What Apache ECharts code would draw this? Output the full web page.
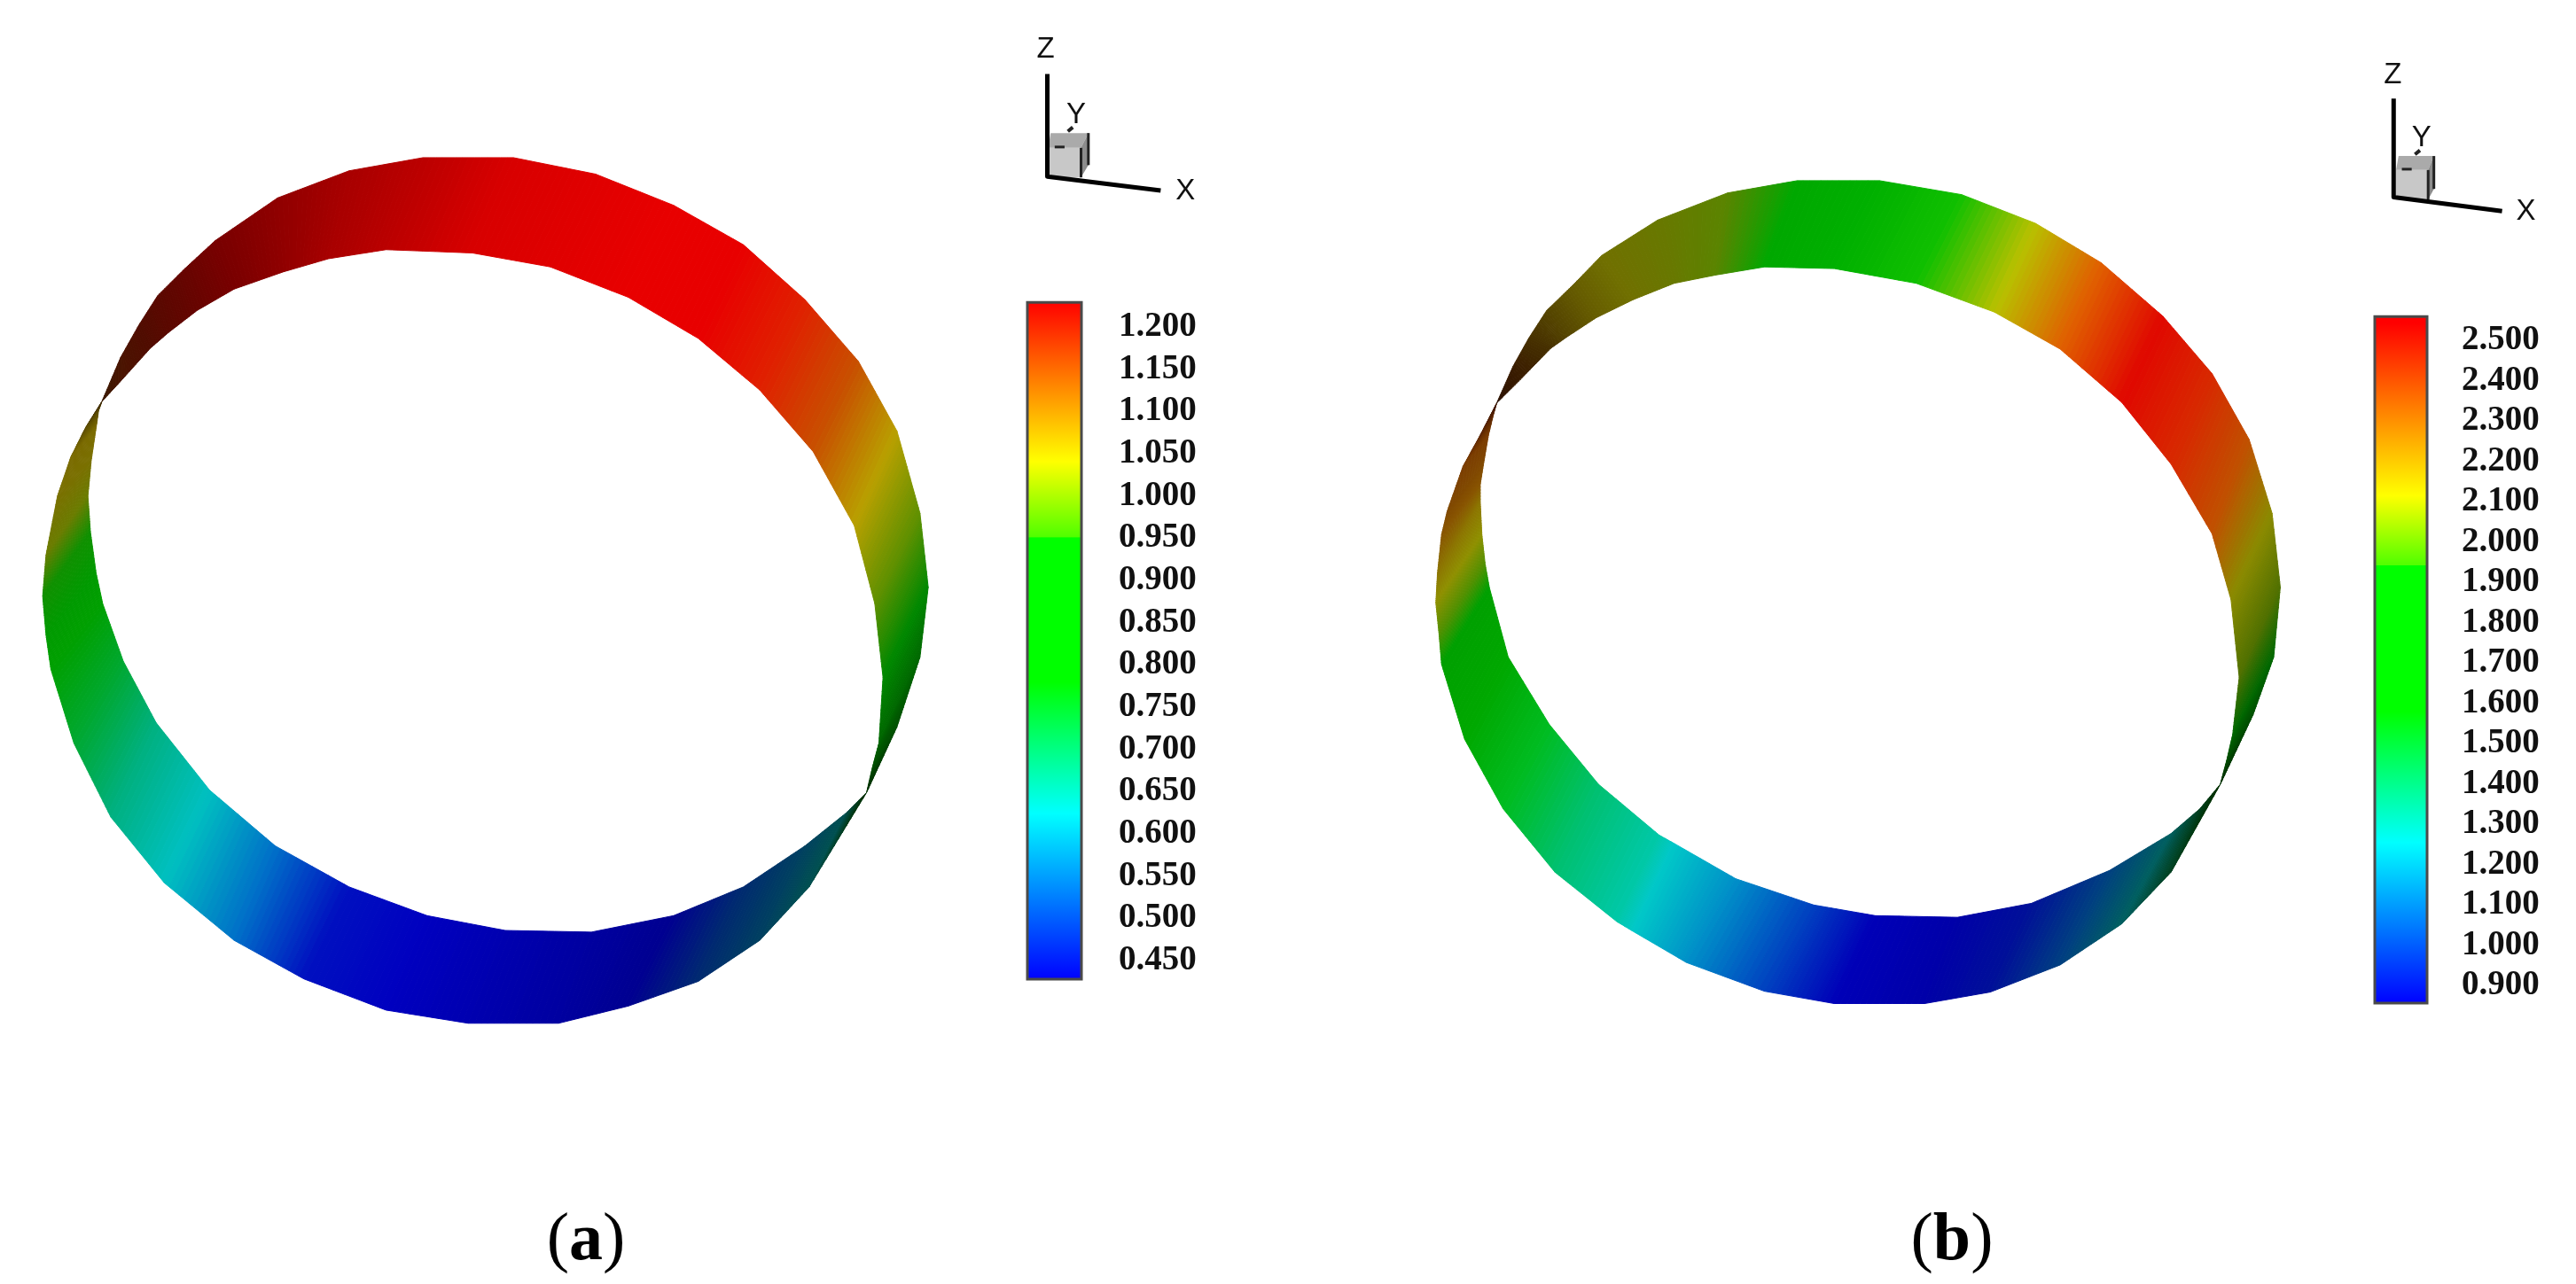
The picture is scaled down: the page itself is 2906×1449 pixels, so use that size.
<!DOCTYPE html>
<html><head><meta charset="utf-8">
<style>html,body{margin:0;padding:0;background:#fff}#c{width:2906px;height:1449px}</style>
<script src="https://cdn.jsdelivr.net/npm/echarts@6/dist/echarts.min.js"></script>
</head><body><div id="c"></div>
<script>
// Ring (a): stations along each half of the twisted band (outer edge, inner edge, colour)
var aUpperOuter=[[124,489],[147,435],[169,396],[192,360],[223,329],[262,293],[338,241],[425,208],[515,192],[625,192],[725,212],[820,250],[905,298],[980,365],[1045,440],[1092,525],[1120,625],[1130,715],[1120,800],[1092,885],[1055,965]];
var aUpperInner=[[124,489],[147,464],[183,424],[205,405],[240,378],[285,352],[345,331],[400,315],[470,304],[575,308],[670,325],[765,362],[850,412],[925,475],[990,550],[1040,640],[1065,735],[1075,825],[1070,905],[1062,935],[1055,965]];
var aUpperColor=['#3a1a00','#4a1400','#500c00','#5a0800','#660400','#780000','#900000','#a80000','#bb0000','#d80000','#e00000','#e80000','#e80000','#e02000','#c85000','#b8a000','#609000','#008800','#006800','#005000','#003000'];
var aLowerOuter=[[124,489],[104,521],[86,557],[70,604],[56,676],[52,726],[56,773],[62,815],[90,905],[135,995],[200,1075],[285,1145],[370,1192],[470,1230],[570,1246],[680,1246],[765,1225],[850,1195],[925,1145],[985,1080],[1055,965]];
var aLowerInner=[[124,489],[120,500],[117,521],[111,561],[107,604],[110,647],[117,698],[125,735],[150,805],[190,880],[255,962],[335,1030],[425,1080],[520,1115],[615,1133],[720,1135],[820,1115],[905,1080],[980,1030],[1030,990],[1055,965]];
var aLowerColor=['#3a2400','#5a4a00','#7a6a00','#7a7000','#6a7c00','#109000','#009a00','#00a000','#00a830','#00b080','#00c0c0','#0070c8','#0010c0','#0000c0','#0000b0','#0000a0','#000090','#002a70','#004060','#005050','#003000'];
// Ring (b)
var bUpperOuter=[[254,491],[274,446],[293,412],[315,378],[347,347],[382,311],[450,268],[535,235],[620,220],[720,220],[820,237],[910,272],[990,320],[1065,385],[1125,455],[1170,535],[1198,625],[1208,715],[1200,800],[1175,870],[1135,955]];
var bUpperInner=[[254,491],[285,460],[320,424],[340,410],[375,387],[420,365],[470,345],[520,335],[580,325],[665,327],[765,345],[860,380],[940,425],[1015,490],[1075,565],[1125,650],[1148,730],[1158,825],[1150,895],[1143,925],[1135,955]];
var bUpperColor=['#2a1000','#3a1c00','#463000','#544400','#665c00','#707000','#687800','#5a8400','#00a800','#00b000','#10c000','#b8c000','#e06000','#e00800','#d82800','#c05000','#8a8a00','#507000','#006800','#005000','#003000'];
var bLowerOuter=[[254,491],[234,530],[213,568],[194,622],[187,651],[182,698],[180,734],[184,773],[187,809],[215,900],[262,985],[325,1062],[400,1122],[420,1134],[485,1172],[580,1207],[665,1222],[775,1222],[855,1208],[940,1175],[1015,1125],[1075,1062],[1135,955]];
var bLowerInner=[[254,491],[250,505],[244,530],[238,565],[234,590],[234,611],[236,651],[240,687],[245,715],[268,800],[318,882],[378,955],[452,1017],[470,1027],[545,1070],[640,1102],[715,1115],[815,1117],[905,1100],[1000,1060],[1075,1015],[1110,985],[1135,955]];
var bLowerColor=['#3a1400','#5a2400','#7a3c00','#804800','#885400','#8c7400','#8f9000','#509000','#00a000','#00a800','#00bc20','#00c070','#00c8a8','#00c8c8','#0090c8','#0040c0','#0000b8','#0000a8','#001098','#004080','#005f60','#004020','#003000'];
// Colour bars
var aTicksMin=0.40,aTicksMax=1.25,aTickStep=0.05,aBarRange=[0.428,1.229];
var aStopValues=[0.428,0.625,0.78,0.95,0.951,1.04,1.229];
var bTicksMin=0.8,bTicksMax=2.6,bTickStep=0.1,bBarRange=[0.856,2.559];
var bStopValues=[0.856,1.256,1.58,1.94,1.941,2.113,2.54];
var stopColors=['#0000ff','#00ffff','#00ff00','#00ff00','#50ff00','#ffff00','#ff0000'];
// Orientation triad
var aTriadLine=[[1275,90],[1275,215],[1413,232]];
var aCube={front:[[1276,180],[1316,180],[1316,216],[1276,216]],top:[[1279,162],[1325,162],[1316,180],[1276,180]],side:[[1316,180],[1325,162],[1325,201],[1316,216]],dash:[[1284,179],[1296,179]],stub:[[1300,160],[1306,155]]};
var aLabels=[['Z',1273,60],['Y',1310,140],['X',1443,233]];
var bTriadLine=[[1346,120],[1346,240],[1478,257]];
var bCube={front:[[1349,207],[1388,207],[1388,243],[1349,243]],top:[[1352,190],[1395,190],[1388,207],[1349,207]],side:[[1388,207],[1395,190],[1395,230],[1388,243]],dash:[[1356,206],[1368,206]],stub:[[1372,188],[1378,183]]};
var bLabels=[['Z',1345,92],['Y',1380,168],['X',1507,258]];
var captions=['a','b'];

function hex(c){return [parseInt(c.substr(1,2),16),parseInt(c.substr(3,2),16),parseInt(c.substr(5,2),16)];}
function mix(p,q,t){var a=hex(p),b=hex(q);return 'rgb('+[0,1,2].map(function(k){return Math.round(a[k]+(b[k]-a[k])*t);}).join(',')+')';}
function bandRows(outer,inner){var r=[];for(var i=0;i<outer.length-1;i++){r.push([outer[i][0],outer[i][1],inner[i][0],inner[i][1],outer[i+1][0],outer[i+1][1],inner[i+1][0],inner[i+1][1]]);}return r;}
function bandSeries(grid,outer,inner,colors){
  return {type:'custom',xAxisIndex:grid,yAxisIndex:grid,silent:true,clip:false,animation:false,
    data:bandRows(outer,inner),encode:{x:[0,2,4,6],y:[1,3,5,7]},
    renderItem:function(params,api){
      var i=params.dataIndex,c0=colors[i],c1=colors[i+1];
      var o0=api.coord([api.value(0),api.value(1)]),n0=api.coord([api.value(2),api.value(3)]);
      var o1=api.coord([api.value(4),api.value(5)]),n1=api.coord([api.value(6),api.value(7)]);
      var kids=[],N=14;
      function L(a,b,t){return [a[0]+(b[0]-a[0])*t,a[1]+(b[1]-a[1])*t];}
      for(var k=0;k<N;k++){
        var t0=k/N,t1=(k+1)/N,col=mix(c0,c1,(k+0.5)/N);
        kids.push({type:'polygon',shape:{points:[L(o0,o1,t0),L(o0,o1,t1),L(n0,n1,t1),L(n0,n1,t0)]},style:{fill:col,stroke:col,lineWidth:1}});
      }
      return {type:'group',children:kids};
    }};
}
function triadSeries(grid,line,cube,labels){
  return {type:'custom',xAxisIndex:grid,yAxisIndex:grid,silent:true,clip:false,animation:false,data:[0],
    renderItem:function(p,api){
      function C(a){return a.map(function(q){return api.coord(q);});}
      var k=[];
      k.push({type:'polygon',shape:{points:C(cube.front)},style:{fill:'#c8c8c8'}});
      k.push({type:'polygon',shape:{points:C(cube.top)},style:{fill:'#aaaaaa'}});
      k.push({type:'polygon',shape:{points:C(cube.side)},style:{fill:'#8c8c8c'}});
      k.push({type:'polyline',shape:{points:C([cube.front[1],cube.front[2]])},style:{fill:'none',stroke:'#222',lineWidth:3}});
      k.push({type:'polyline',shape:{points:C([cube.top[1],cube.side[2]])},style:{fill:'none',stroke:'#222',lineWidth:3}});
      k.push({type:'polyline',shape:{points:C(cube.dash)},style:{fill:'none',stroke:'#222',lineWidth:3}});
      k.push({type:'polyline',shape:{points:C(cube.stub)},style:{fill:'none',stroke:'#222',lineWidth:4}});
      k.push({type:'polyline',shape:{points:C(line)},style:{fill:'none',stroke:'#000',lineWidth:5,lineJoin:'round'}});
      labels.forEach(function(l){var q=api.coord([l[1],l[2]]);
        k.push({type:'text',x:q[0],y:q[1],style:{text:l[0],fill:'#111',font:'33px "Liberation Sans"',align:'center',verticalAlign:'middle'}});});
      return {type:'group',children:k};
    }};
}
function barSeries(grid,range,stops){
  return {type:'custom',xAxisIndex:grid,yAxisIndex:grid,silent:true,clip:false,animation:false,data:[[0,1,range[0],range[1]]],encode:{y:[2,3]},
    renderItem:function(p,api){
      var a=api.coord([api.value(0),api.value(3)]),b=api.coord([api.value(1),api.value(2)]);
      var cs=stops.map(function(v,i){return {offset:(v-range[0])/(range[1]-range[0]),color:stopColors[i]};});
      return {type:'rect',shape:{x:a[0],y:a[1],width:b[0]-a[0],height:b[1]-a[1]},
        style:{fill:{type:'linear',x:0,y:1,x2:0,y2:0,colorStops:cs},stroke:'#4a4a4a',lineWidth:3}};
    }};
}
function panelAxes(i){return {x:{gridIndex:i,type:'value',min:0,max:1568,show:false},y:{gridIndex:i,type:'value',min:0,max:1563.5,inverse:true,show:false}};}
function barY(i,min,max,step,margin){return {gridIndex:i,type:'value',position:'right',min:min,max:max,interval:step,
  axisLine:{show:false},axisTick:{show:false},splitLine:{show:false},
  axisLabel:{show:true,margin:margin,color:'#111',fontFamily:'"Liberation Serif"',fontWeight:'bold',fontSize:39,
    formatter:function(v){return (v<min+step/2||v>max-step/2)?'':v.toFixed(3);}}};}
var pA=panelAxes(0),pB=panelAxes(1);
var capStyle={fontFamily:'"Liberation Serif"',fontSize:76,fontWeight:'normal',color:'#000',rich:{p:{fontFamily:'"Liberation Serif"',fontWeight:'normal',fontSize:76,color:'#000'},l:{fontFamily:'"Liberation Serif"',fontWeight:'bold',fontSize:76,color:'#000'}}};
var chart=echarts.init(document.getElementById('c'),null,{renderer:'canvas',width:2906,height:1449});
chart.setOption({
  backgroundColor:'#ffffff',animation:false,
  title:[
    {text:'{p|(}{l|'+captions[0]+'}{p|)}',left:661,top:1363,textAlign:'center',textStyle:capStyle,padding:0},
    {text:'{p|(}{l|'+captions[1]+'}{p|)}',left:2202,top:1363,textAlign:'center',textStyle:capStyle,padding:0}
  ],
  grid:[
    {left:0,top:0,width:1453,height:1449},
    {left:1453,top:0,width:1453,height:1449},
    {left:1159,top:321.3,width:61,height:810.4},
    {left:2679,top:338.5,width:59,height:819}
  ],
  xAxis:[pA.x,pB.x,{gridIndex:2,type:'value',min:0,max:1,show:false},{gridIndex:3,type:'value',min:0,max:1,show:false}],
  yAxis:[pA.y,pB.y,barY(2,aTicksMin,aTicksMax,aTickStep,42),barY(3,bTicksMin,bTicksMax,bTickStep,39)],
  series:[
    bandSeries(0,aUpperOuter,aUpperInner,aUpperColor),
    bandSeries(0,aLowerOuter,aLowerInner,aLowerColor),
    bandSeries(1,bUpperOuter,bUpperInner,bUpperColor),
    bandSeries(1,bLowerOuter,bLowerInner,bLowerColor),
    triadSeries(0,aTriadLine,aCube,aLabels),
    triadSeries(1,bTriadLine,bCube,bLabels),
    barSeries(2,aBarRange,aStopValues),
    barSeries(3,bBarRange,bStopValues)
  ]
});
</script></body></html>
